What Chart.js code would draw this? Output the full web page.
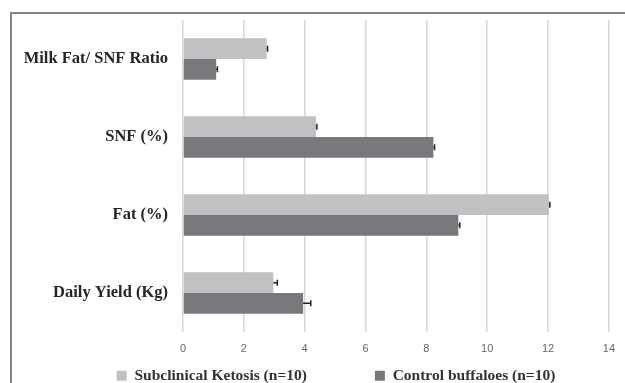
<!DOCTYPE html>
<html>
<head>
<meta charset="utf-8">
<script src="https://cdn.jsdelivr.net/npm/chart.js@4"></script>
<style>
  html, body { margin: 0; padding: 0; background: #fff; }
  #frame {
    position: absolute; left: 10px; top: 12px; width: 620px; height: 380px;
    border-top: 2px solid #858585; border-left: 2px solid #858585;
    pointer-events: none;
  }
  #myChart { position: absolute; left: 0; top: 0; }
</style>
</head>
<body>
<canvas id="myChart" width="625" height="383"></canvas>
<div id="frame"></div>
<script>
const labels = [
    'Milk Fat/ SNF Ratio',
    'SNF (%)',
    'Fat (%)',
    'Daily Yield (Kg)'
];

const seriesNames = ['Subclinical Ketosis (n=10)', 'Control buffaloes (n=10)'];

const ketosisValues = [2.75, 4.37, 12.03, 2.97];
const ketosisErrors = [0.03, 0.03, 0.03, 0.13];

const controlValues = [1.09, 8.23, 9.05, 3.95];
const controlErrors = [0.04, 0.04, 0.05, 0.25];

const xTicks = [0, 2, 4, 6, 8, 10, 12, 14];

const errors = [ketosisErrors, controlErrors];

const ctx = document.getElementById('myChart').getContext('2d');

// widest category label, so the mirrored labels can be right aligned left of the axis
ctx.font = 'bold 16.5px Liberation Serif';
const widest = Math.max(...labels.map(l => ctx.measureText(l).width));

// plus-direction error bars, drawn on top of the bars
const errorBars = {
    id: 'errorBars',
    afterDatasetsDraw(chart) {
        const c = chart.ctx;
        const x = chart.scales.x;
        c.save();
        c.strokeStyle = '#222';
        c.lineWidth = 1.5;
        chart.data.datasets.forEach((ds, i) => {
            const meta = chart.getDatasetMeta(i);
            meta.data.forEach((bar, j) => {
                const x0 = x.getPixelForValue(ds.data[j]);
                const x1 = x.getPixelForValue(ds.data[j] + errors[i][j]);
                c.beginPath();
                c.moveTo(x0, bar.y);
                c.lineTo(x1, bar.y);
                c.moveTo(x1, bar.y - 3);
                c.lineTo(x1, bar.y + 3);
                c.stroke();
            });
        });
        c.restore();
    }
};

const dataGraph = {
    labels: labels,
    datasets: [{
        label: seriesNames[0],
        data: ketosisValues,
        backgroundColor: '#c0c1c3'
    }, {
        label: seriesNames[1],
        data: controlValues,
        backgroundColor: '#78797c'
    }]
};

const myChart = new Chart(ctx, {
    type: 'bar',
    data: dataGraph,
    plugins: [errorBars],
    options: {
        indexAxis: 'y',
        responsive: false,
        animation: false,
        layout: {
            padding: { top: 20, left: 60, right: 13, bottom: 0 }
        },
        datasets: {
            bar: { categoryPercentage: 0.53, barPercentage: 1 }
        },
        scales: {
            x: {
                min: 0,
                max: 14,
                afterBuildTicks: scale => {
                    scale.ticks = xTicks.map(v => ({ value: v }));
                },
                afterFit: scale => { scale.height = 30; },
                grid: { color: '#d6d6d6', lineWidth: 1.5, drawTicks: false },
                border: { display: false },
                ticks: {
                    padding: 10,
                    color: '#666',
                    font: { family: 'Liberation Sans', size: 11 }
                }
            },
            y: {
                afterFit: scale => { scale.width = 123; },
                grid: { display: false },
                border: { display: false },
                ticks: {
                    mirror: true,
                    crossAlign: 'far',
                    padding: -15 - widest,
                    color: '#262626',
                    font: { family: 'Liberation Serif', size: 16.5, weight: 'bold' }
                }
            }
        },
        plugins: {
            tooltip: { enabled: false },
            legend: {
                position: 'bottom',
                maxHeight: 21,
                labels: {
                    boxWidth: 10,
                    boxHeight: 10,
                    padding: 6,
                    color: '#333',
                    font: { family: 'Liberation Serif', size: 15.5, weight: 'bold' },
                    generateLabels: chart => {
                        const items = Chart.defaults.plugins.legend.labels.generateLabels(chart);
                        // wide gap between the two entries, as in the source figure
                        items[0].text = items[0].text + ' '.repeat(16);
                        items.forEach(it => { it.strokeStyle = 'transparent'; it.lineWidth = 0; });
                        return items;
                    }
                }
            }
        }
    }
});
</script>
</body>
</html>
